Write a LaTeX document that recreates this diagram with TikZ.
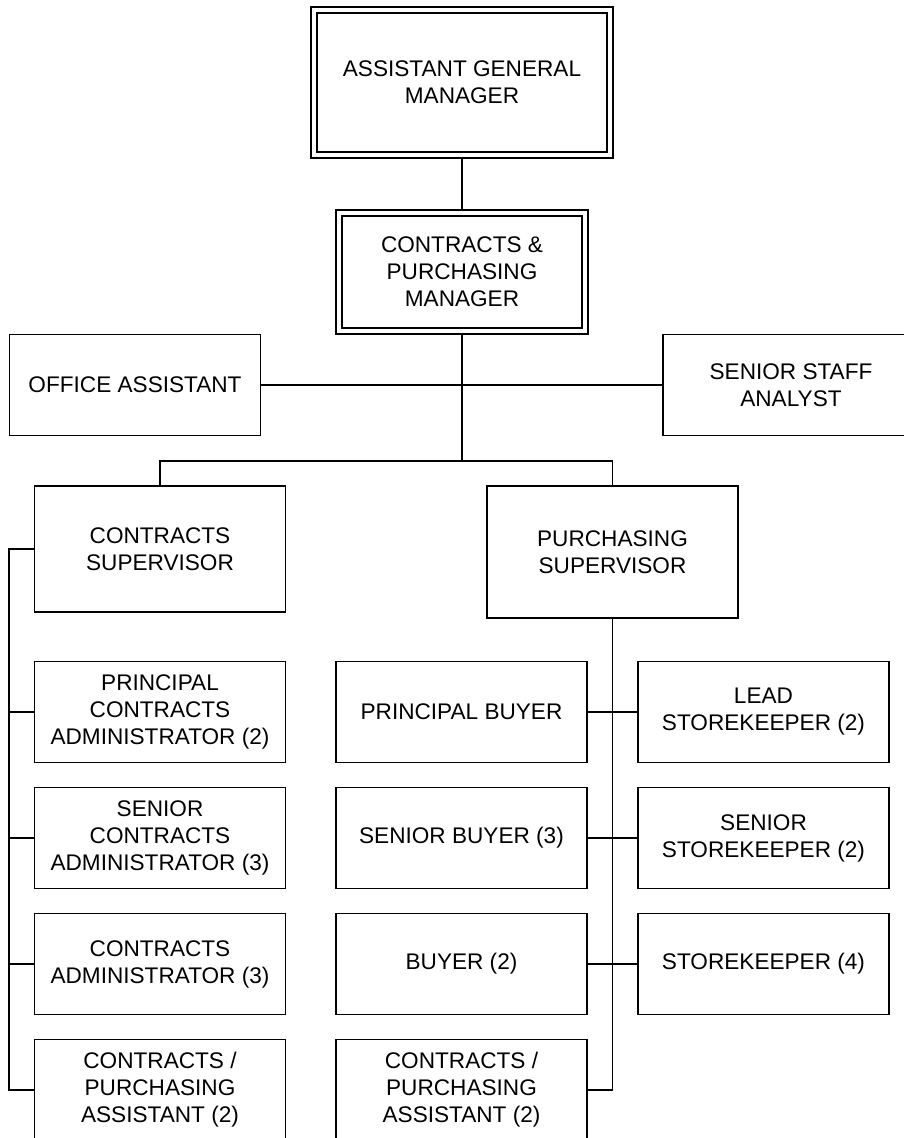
\documentclass[tikz,border=0pt]{standalone}
\usepackage{fontspec}
\setmainfont{Liberation Sans}
\usetikzlibrary{positioning}
\tikzset{
    orgbox/.style={rectangle,draw,line width=1.6pt,align=center,minimum width=251pt,minimum height=101pt,inner sep=2pt,font=\fontsize{22.6}{27}\selectfont},
    headbox/.style={orgbox,double,double distance=4.4pt,outer sep=3.8pt},
    orgline/.style={line width=1.6pt}
}
\begin{document}
\begin{tikzpicture}[x=1pt,y=-1pt,node distance=23.4pt]
        \useasboundingbox (0,0) rectangle (904,1138);
        \clip (0,0) rectangle (904,1138);
        \node[headbox,minimum width=296pt,minimum height=145pt] (agm) at (462,82.5) {ASSISTANT GENERAL\\MANAGER};
        \node[headbox,minimum width=246pt,minimum height=118pt] (cpm) at (462,272) {CONTRACTS \&\\PURCHASING\\MANAGER};
        \node[orgbox] (office) at (135,385) {OFFICE ASSISTANT};
        \node[orgbox,minimum width=256pt] (analyst) at (791,385) {SENIOR STAFF\\ANALYST};
        \node[orgbox,minimum height=126pt] (csup) at (160,549) {CONTRACTS\\SUPERVISOR};
        \node[orgbox,minimum height=132pt] (psup) at (612.5,552) {PURCHASING\\SUPERVISOR};
        % contracts column
        \node[orgbox] (pca) at (160,712) {PRINCIPAL\\CONTRACTS\\ADMINISTRATOR (2)};
        \node[orgbox,below=of pca] (sca) {SENIOR\\CONTRACTS\\ADMINISTRATOR (3)};
        \node[orgbox,below=of sca] (ca) {CONTRACTS\\ADMINISTRATOR (3)};
        \node[orgbox,below=of ca] (cpa) {CONTRACTS /\\PURCHASING\\ASSISTANT (2)};
        % purchasing column
        \node[orgbox] (pb) at (461.5,712) {PRINCIPAL BUYER};
        \node[orgbox,below=of pb] (sb) {SENIOR BUYER (3)};
        \node[orgbox,below=of sb] (buyer) {BUYER (2)};
        \node[orgbox,below=of buyer] (ppa) {CONTRACTS /\\PURCHASING\\ASSISTANT (2)};
        \node[orgbox] (lsk) at (763.5,712) {LEAD\\STOREKEEPER (2)};
        \node[orgbox,below=of lsk] (ssk) {SENIOR\\STOREKEEPER (2)};
        \node[orgbox,below=of ssk] (sk) {STOREKEEPER (4)};
        \coordinate (bar) at (462,461);
        \coordinate (cspine) at (9,549);
        \draw[orgline] (agm) -- (cpm);
        \draw[orgline] (office) -- (analyst);
        \draw[orgline] (cpm) -- (bar);
        \draw[orgline] (csup.north) |- (bar) -| (psup.north);
        \draw[orgline] (csup.west) -- (cspine) |- (cpa.west);
        \foreach \n in {pca,sca,ca}
            \draw[orgline] (\n.west) -- (\n.west -| cspine);
        \draw[orgline] (psup.south) |- (ppa.east);
        \foreach \l/\r in {pb/lsk,sb/ssk,buyer/sk}
            \draw[orgline] (\l.east) -- (\r.west);
    \end{tikzpicture}
\end{document}
